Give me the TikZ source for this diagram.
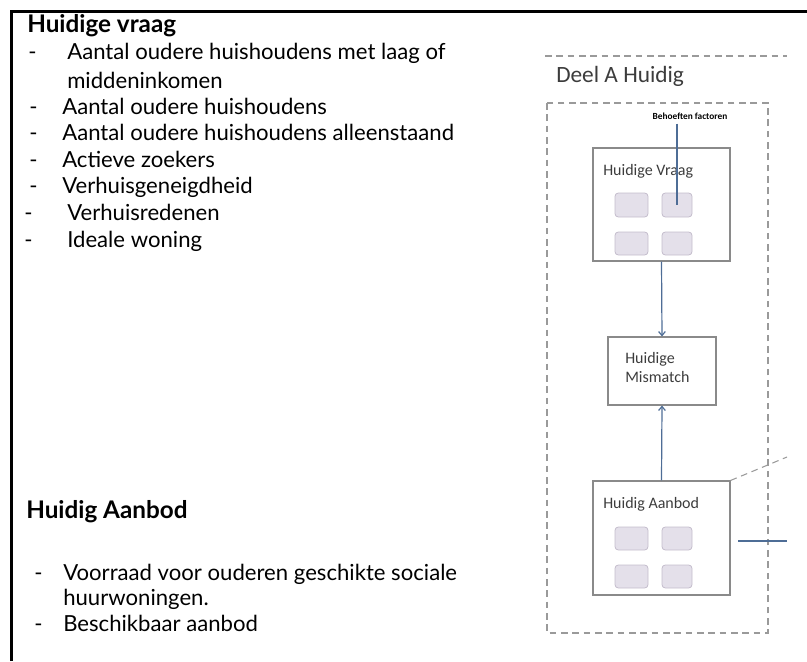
\documentclass[tikz,border=0pt]{standalone}
\usepackage{fontspec}
\setmainfont{Lato}
\newfontfamily\diagfont{Carlito}
\usetikzlibrary{arrows.meta,fit}
\definecolor{linkblue}{HTML}{4E6D96}
\definecolor{boxgray}{HTML}{8A8A8A}
\definecolor{dashgray}{HTML}{9A9A9A}
\definecolor{tilefill}{HTML}{E4E0EA}
\definecolor{tiledraw}{HTML}{C4BDCC}
\definecolor{titlegray}{HTML}{3C3C3C}
\begin{document}
\begin{tikzpicture}[x=0.75pt,y=-0.75pt,
  txt/.style={anchor=base west,inner sep=0pt,font=\fontsize{16.6}{20}\selectfont},
  hd/.style={anchor=base west,inner sep=0pt,font=\fontsize{18.2}{20}\selectfont\bfseries},
  dtxt/.style={anchor=base west,inner sep=0pt,text=titlegray,font=\diagfont\fontsize{12}{14}\selectfont},
  mainbox/.style={draw=boxgray,line width=0.8pt,inner sep=0pt},
  tile/.style={draw=tiledraw,fill=tilefill,rounded corners=2.5pt,line width=0.6pt,inner sep=0pt},
  graydash/.style={draw=dashgray,line width=0.8pt,dash pattern=on 5pt off 3.5pt},
  link/.style={draw=linkblue,line width=0.9pt},
  linkarrow/.style={link,-{Straight Barb[length=3pt,width=5pt]}}
]
\useasboundingbox (0,0) rectangle (807,661);
% page frame
\draw[line width=2.25pt] (11,661) -- (11,11.5) -- (807,11.5);

% left text
\node[hd] (h1) at (27,32) {Huidige vraag};
\node[txt] (d1) at (28,59) {-};
\node[txt] (t1) at (67,59) {Aantal oudere huishoudens met laag of};
\node[txt] (t1b) at (67,88) {middeninkomen};
\node[txt] (d2) at (29,114) {-};
\node[txt] (t2) at (62,114) {Aantal oudere huishoudens};
\node[txt] (d3) at (29,140) {-};
\node[txt] (t3) at (62,140) {Aantal oudere huishoudens alleenstaand};
\node[txt] (d4) at (29,167) {-};
\node[txt] (t4) at (62,167) {Actieve zoekers};
\node[txt] (d5) at (29,193) {-};
\node[txt] (t5) at (62,193) {Verhuisgeneigdheid};
\node[txt] (d6) at (24,220) {-};
\node[txt] (t6) at (67,220) {Verhuisredenen};
\node[txt] (d7) at (24,247) {-};
\node[txt] (t7) at (67,247) {Ideale woning};

\node[hd] (h2) at (26,518) {Huidig Aanbod};
\node[txt] (d8) at (34,580) {-};
\node[txt] (t8) at (63,580) {Voorraad voor ouderen geschikte sociale};
\node[txt] (t8b) at (63,605) {huurwoningen.};
\node[txt] (d9) at (34,631) {-};
\node[txt] (t9) at (63,631) {Beschikbaar aanbod};

% right diagram
\draw[graydash] (545,56) -- (787,56);
\node[dtxt,font=\diagfont\fontsize{17.5}{20}\selectfont] (title) at (556,82) {Deel A Huidig};
\draw[graydash] (547,103) rectangle (768,633);

\node[mainbox,fit={(593,148) (730,261)}] (vraag) {};
\node[dtxt] (vraagt) at (603,175) {Huidige Vraag};
\node[tile,fit={(615,193) (648,217)}] (vt1) {};
\node[tile,fit={(662,193) (692,217)}] (vt2) {};
\node[tile,fit={(615,232) (648,255)}] (vt3) {};
\node[tile,fit={(662,232) (692,255)}] (vt4) {};

\node[inner sep=0pt,font=\diagfont\fontsize{7}{8}\selectfont\bfseries] (lbl) at (690,116) {Behoeften factoren};

\node[mainbox,fit={(608,337) (716,405)}] (mis) {};
\node[dtxt] (mist1) at (625,363) {Huidige};
\node[dtxt] (mist2) at (625,382) {Mismatch};

\node[mainbox,fit={(593,481) (730,595)}] (aanbod) {};
\node[dtxt] (aanbodt) at (603,508) {Huidig Aanbod};
\node[tile,fit={(615,527) (648,550)}] (at1) {};
\node[tile,fit={(662,527) (692,550)}] (at2) {};
\node[tile,fit={(615,565) (648,588)}] (at3) {};
\node[tile,fit={(662,565) (692,588)}] (at4) {};

\coordinate (diagend) at (787,457);
\coordinate (hstart) at (738,541);
\coordinate (hend) at (787,541);

% connectors
\draw[link] ([yshift=-3pt]lbl.south -| vt2.center) -- (vt2.center);
\draw[linkarrow] (vraag.south) -- (mis.north);
\draw[linkarrow] (aanbod.north) -- (mis.south);
\draw[graydash] (aanbod.north east) -- (diagend);
\draw[link] (hstart) -- (hend);
\end{tikzpicture}
\end{document}
